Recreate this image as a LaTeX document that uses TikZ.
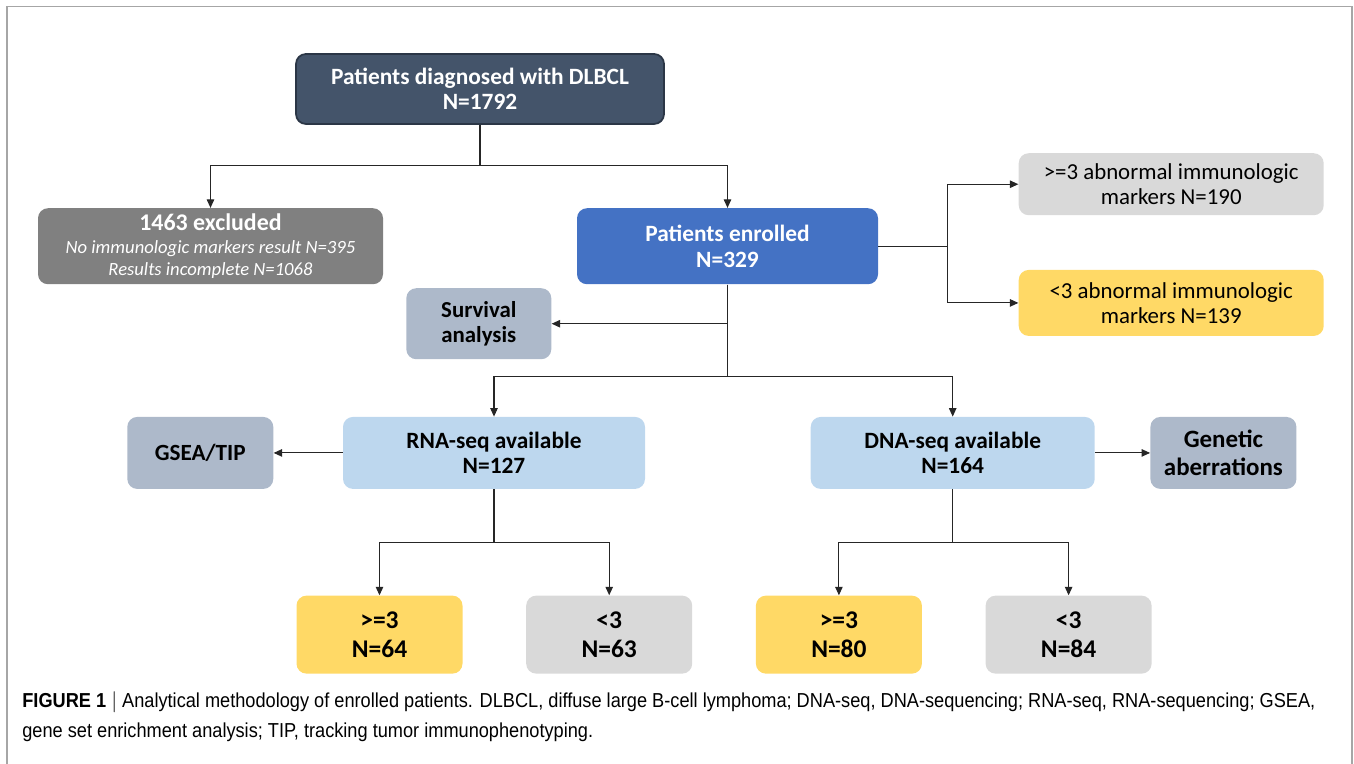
\documentclass[tikz,border=0pt]{standalone}
\usepackage{fontspec}
\setmainfont{Carlito}
\newfontfamily\capfont[FakeStretch=0.9]{Liberation Sans}
\usetikzlibrary{arrows.meta,positioning}

\definecolor{navy}{HTML}{44546A}
\definecolor{navyline}{HTML}{2B3646}
\definecolor{exclgray}{HTML}{808080}
\definecolor{enrblue}{HTML}{4472C4}
\definecolor{slate}{HTML}{ADB9CA}
\definecolor{lightgray}{HTML}{D9D9D9}
\definecolor{gold}{HTML}{FFD966}
\definecolor{skyblue}{HTML}{BDD7EE}
\definecolor{framegray}{HTML}{A6A6A6}

\begin{document}
\begin{tikzpicture}[node distance=10mm, every node/.style={font=\bfseries\fontsize{13.3}{14.5}\selectfont},
		box/.style={rounded corners=2mm, align=center, inner sep=1mm, minimum height=14.4mm},
		count/.style={box, font=\bfseries\fontsize{14.5}{16.5}\selectfont, minimum width=33.2mm, minimum height=15.6mm},
		link/.style={draw=black!85, line width=0.6pt, -{Triangle[length=1.7mm,width=1.5mm]}}]
	\useasboundingbox (0,0) rectangle (27.08,-15.28);
	\draw[framegray, line width=0.8pt] (0.14,-15.5) -- (0.14,-0.13) -- (27.04,-0.13) -- (27.04,-15.5);

	\node[box, fill=navy, draw=navyline, line width=1pt, text=white, minimum width=73.6mm, minimum height=14mm] (diag) at (9.6,-1.78) {Patients diagnosed with DLBCL\\N=1792};
	\node[box, fill=exclgray, text=white, minimum width=69mm, minimum height=15.2mm, below=16.6mm of diag, xshift=-53.9mm,
		font=\fontsize{13.6}{13}\selectfont] (excl)
		{{\bfseries 1463 excluded}\\{\itshape\fontsize{10.6}{12.2}\selectfont No immunologic markers result N=395}\\{\itshape\fontsize{10.6}{12.2}\selectfont Results incomplete N=1068}};
	\node[box, fill=enrblue, text=white, minimum width=60.2mm, minimum height=15.2mm, below=16.6mm of diag, xshift=49.5mm] (enr) {Patients enrolled\\N=329};
	\node[box, fill=slate, font=\bfseries\fontsize{13}{14.5}\selectfont, minimum width=29mm, minimum height=14.2mm, left=5mm of enr, yshift=-15.5mm] (surv) {Survival\\analysis};
	\node[box, fill=lightgray, font=\fontsize{13}{14.5}\selectfont, minimum width=61mm, minimum height=12.4mm, right=28mm of enr, yshift=12.4mm] (hi) {>=3 abnormal immunologic\\markers N=190};
	\node[box, fill=gold, font=\fontsize{13}{14.5}\selectfont, minimum width=61mm, minimum height=13.2mm, below=10.8mm of hi] (lo) {<3 abnormal immunologic\\markers N=139};

	\node[box, fill=skyblue, minimum width=60.4mm, below=26.4mm of enr, xshift=-46.7mm] (rna) {RNA-seq available\\N=127};
	\node[box, fill=skyblue, minimum width=56.8mm, right=33mm of rna] (dna) {DNA-seq available\\N=164};
	\node[box, fill=slate, font=\bfseries\fontsize{13.2}{14.5}\selectfont, minimum width=29.2mm, left=13.8mm of rna] (gsea) {GSEA/TIP};
	\node[box, fill=slate, font=\bfseries\fontsize{14.2}{15.5}\selectfont, minimum width=29.2mm, right=11mm of dna] (gen) {Genetic\\aberrations};

	\node[count, fill=gold, below=21.2mm of rna, xshift=-22.9mm] (rhi) {>=3\\N=64};
	\node[count, fill=lightgray, right=12.6mm of rhi] (rlo) {<3\\N=63};
	\node[count, fill=gold, right=12.6mm of rlo] (dhi) {>=3\\N=80};
	\node[count, fill=lightgray, right=12.6mm of dhi] (dlo) {<3\\N=84};

	\draw[link] (diag.south) -- ++(0,-0.82) -| (excl.north);
	\draw[link] (diag.south) -- ++(0,-0.82) -| (enr.north);
	\draw[link] (enr.east) -- ++(1.38,0) |- (hi.west);
	\draw[link] (enr.east) -- ++(1.38,0) |- (lo.west);
	\draw[link] (enr.south) |- (surv.east);
	\draw[link] (enr.south) -- ++(0,-1.84) -| (rna.north);
	\draw[link] (enr.south) -- ++(0,-1.84) -| (dna.north);
	\draw[link] (rna.west) -- (gsea.east);
	\draw[link] (dna.east) -- (gen.west);
	\draw[link] (rna.south) -- ++(0,-1.06) -| (rhi.north);
	\draw[link] (rna.south) -- ++(0,-1.06) -| (rlo.north);
	\draw[link] (dna.south) -- ++(0,-1.06) -| (dhi.north);
	\draw[link] (dna.south) -- ++(0,-1.06) -| (dlo.north);

	\node[anchor=north west, inner sep=0pt, align=left, font=\capfont\fontsize{11.5}{17}\selectfont] (cap) at (0.44,-13.82)
		{\textbf{FIGURE 1} $|$ Analytical methodology of enrolled patients. DLBCL, diffuse large B-cell lymphoma; DNA-seq, DNA-sequencing; RNA-seq, RNA-sequencing; GSEA,\\gene set enrichment analysis; TIP, tracking tumor immunophenotyping.};
\end{tikzpicture}
\end{document}
